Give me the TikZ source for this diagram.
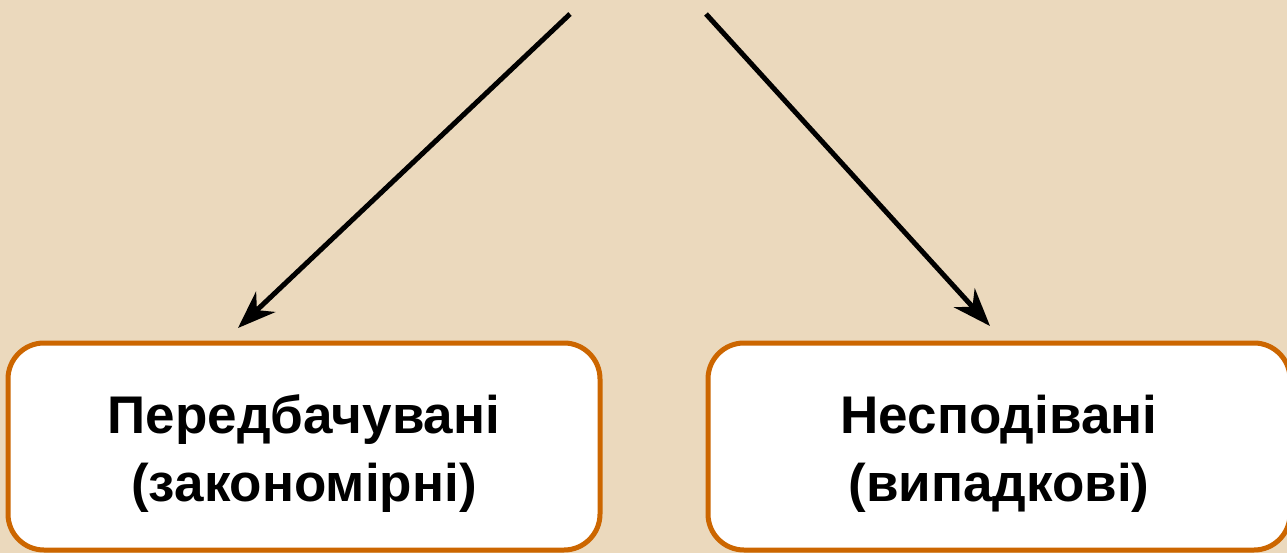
\documentclass[tikz,border=0pt]{standalone}
\usepackage{fontspec}
\setmainfont{Liberation Sans}
\usetikzlibrary{arrows.meta}

\definecolor{parchment}{RGB}{235,217,189}
\definecolor{boxorange}{RGB}{204,102,0}

\begin{document}
\begin{tikzpicture}[x=1pt, y=-1pt,
    card/.style={draw=boxorange, line width=5pt, fill=white, rounded corners=36pt,
        minimum width=#1, minimum height=207pt, align=center,
        font=\fontsize{53}{68}\selectfont\bfseries},
    pointer/.style={line width=5pt, -{Stealth[length=38pt, width=28pt, inset=12pt]}}]
    \fill [parchment] (0,0) rectangle (1287,553);
    \clip (0,0) rectangle (1287,553);
    \node [card=592pt] (predict) at (304,446.5) {\rule{0pt}{52pt}Передбачувані\\(закономірні)};
    \node [card=582pt] (sudden) at (999,446.5) {\rule{0pt}{52pt}Несподівані\\(випадкові)};
    \coordinate (topL) at (570,14);
    \coordinate (topR) at (706,14);
    \coordinate (tipL) at (238,328);
    \coordinate (tipR) at (990,326);
    \draw [pointer] (topL) -- (tipL);
    \draw [pointer] (topR) -- (tipR);
\end{tikzpicture}
\end{document}
